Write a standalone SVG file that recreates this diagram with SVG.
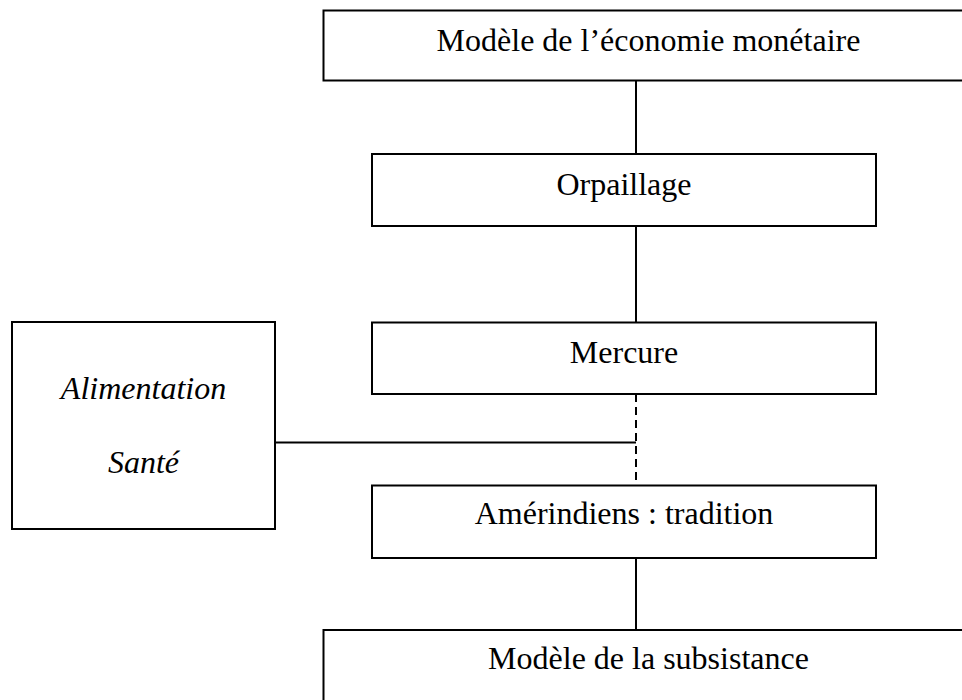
<svg xmlns="http://www.w3.org/2000/svg" width="962" height="700" viewBox="0 0 962 700">
<style>
.box{fill:#fff;stroke:#000;stroke-width:2}
.t{font-family:"Liberation Serif","Times New Roman",serif;font-size:32px;fill:#000;text-anchor:middle}
.i{font-style:italic}
.c{stroke:#000;stroke-width:2;fill:none}
.d{stroke-dasharray:8 5}
</style>
<rect width="962" height="700" fill="#fff"/>
<g id="connectors">
<line class="c" x1="636" y1="80" x2="636" y2="154"/>
<line class="c" x1="636" y1="226" x2="636" y2="323"/>
<line class="c d" x1="636" y1="394" x2="636" y2="486"/>
<line class="c" x1="275" y1="442.5" x2="636" y2="442.5"/>
<line class="c" x1="636" y1="558" x2="636" y2="630"/>
</g>
<g id="n-monetaire">
<rect class="box" x="323.5" y="10.5" width="660" height="70"/>
<text class="t" x="648.5" y="51">Modèle de l’économie monétaire</text>
</g>
<g id="n-orpaillage">
<rect class="box" x="372" y="154" width="504" height="72"/>
<text class="t" x="624" y="195">Orpaillage</text>
</g>
<g id="n-mercure">
<rect class="box" x="372" y="322.5" width="504" height="71.5"/>
<text class="t" x="624" y="363">Mercure</text>
</g>
<g id="n-amerindiens">
<rect class="box" x="372" y="485.5" width="504" height="72.5"/>
<text class="t" x="624" y="524">Amérindiens : tradition</text>
</g>
<g id="n-subsistance">
<rect class="box" x="323.5" y="630" width="660" height="90"/>
<text class="t" x="648.5" y="669">Modèle de la subsistance</text>
</g>
<g id="n-alimentation">
<rect class="box" x="12" y="322" width="263" height="207"/>
<text class="t i" x="143.5" y="399">Alimentation</text>
<text class="t i" x="143.5" y="473">Santé</text>
</g>
</svg>
